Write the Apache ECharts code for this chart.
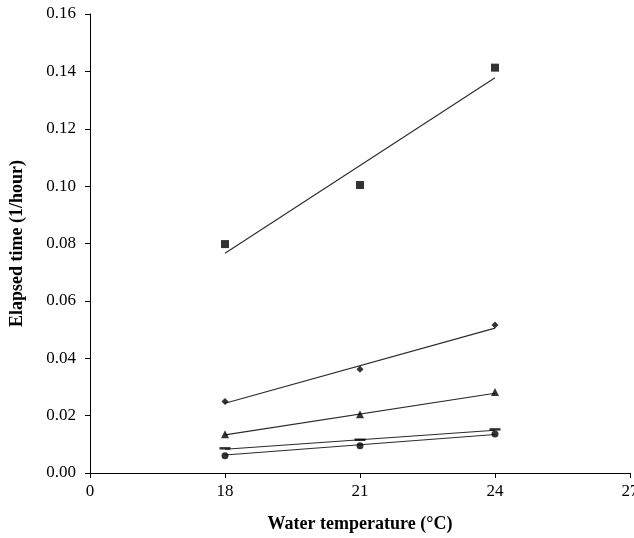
<!DOCTYPE html>
<html>
<head>
<meta charset="utf-8">
<script src="https://cdn.jsdelivr.net/npm/echarts@6/dist/echarts.min.js"></script>
<style>html,body{margin:0;padding:0;background:#fff}#c{width:634px;height:538px}</style>
</head>
<body>
<div id="c"></div>
<script>
// Tick labels on the (evenly spaced) x axis
var xTickLabels = ['0', '18', '21', '24', '27'];
var temperatures = ['18', '21', '24'];
var yTickStep = 0.02;

// Observed values (1/hour)
var squareVals   = [0.0798, 0.1004, 0.1413];
var diamondVals  = [0.0249, 0.0362, 0.0516];
var triangleVals = [0.0135, 0.0205, 0.0282];
var dashVals     = [0.0086, 0.0116, 0.0152];
var circleVals   = [0.0060, 0.0095, 0.0136];

// Trend line end values at 18 and 24 °C
var trendTemps    = ['18', '24'];
var squareTrend   = [0.0766, 0.1378];
var diamondTrend  = [0.0243, 0.0505];
var triangleTrend = [0.0133, 0.0278];
var dashTrend     = [0.0083, 0.0149];
var circleTrend   = [0.0063, 0.0134];

function pts(temps, vals) {
  return temps.map(function (t, i) { return [xTickLabels.indexOf(t), vals[i]]; });
}

var font = 'Liberation Serif, Times New Roman, serif';
var lineCol = '#2a2a2a';

function scatter(vals, symbol, size) {
  return { type: 'scatter', data: pts(temperatures, vals), symbol: symbol, symbolSize: size,
           itemStyle: { color: '#000' }, z: 5, silent: true };
}
function trend(vals) {
  return { type: 'line', data: pts(trendTemps, vals), showSymbol: false, symbol: 'none',
           lineStyle: { color: lineCol, width: 1.1 }, z: 3, silent: true };
}

var chart = echarts.init(document.getElementById('c'), null, { renderer: 'canvas' });
chart.setOption({
  animation: false,
  backgroundColor: '#fff',
  grid: { left: 90, right: 4, top: 14, bottom: 65, containLabel: false, outerBoundsMode: 'none' },
  xAxis: {
    type: 'value', min: 0, max: xTickLabels.length - 1, interval: 1,
    name: 'Water temperature (\u00B0C)', nameLocation: 'middle', nameGap: 42,
    nameTextStyle: { fontFamily: font, fontWeight: 'bold', fontSize: 18, color: '#000' },
    axisLine: { onZero: false, lineStyle: { color: '#000', width: 1 } },
    axisTick: { show: true, length: 5, lineStyle: { color: '#000' } },
    axisLabel: { margin: 10, fontFamily: font, fontSize: 17, color: '#000', hideOverlap: false,
                 formatter: function (v) { return xTickLabels[Math.round(v)]; } },
    splitLine: { show: false }
  },
  yAxis: {
    type: 'value', min: 0, max: 0.16, interval: yTickStep,
    name: 'Elapsed time (1/hour)', nameLocation: 'middle', nameGap: 64, nameRotate: 90,
    nameTextStyle: { fontFamily: font, fontWeight: 'bold', fontSize: 18, color: '#000' },
    axisLine: { show: true, lineStyle: { color: '#000', width: 1 } },
    axisTick: { show: true, length: 5, lineStyle: { color: '#000' } },
    axisLabel: { margin: 14, fontFamily: font, fontSize: 17, color: '#000',
                 formatter: function (v) { return v.toFixed(2); } },
    splitLine: { show: false }
  },
  series: [
    trend(squareTrend), trend(diamondTrend), trend(triangleTrend), trend(dashTrend), trend(circleTrend),
    scatter(squareVals, 'rect', 8),
    scatter(diamondVals, 'diamond', 7),
    scatter(triangleVals, 'triangle', 8),
    scatter(dashVals, 'rect', [11, 2.5]),
    scatter(circleVals, 'circle', 7)
  ]
});
</script>
</body>
</html>
